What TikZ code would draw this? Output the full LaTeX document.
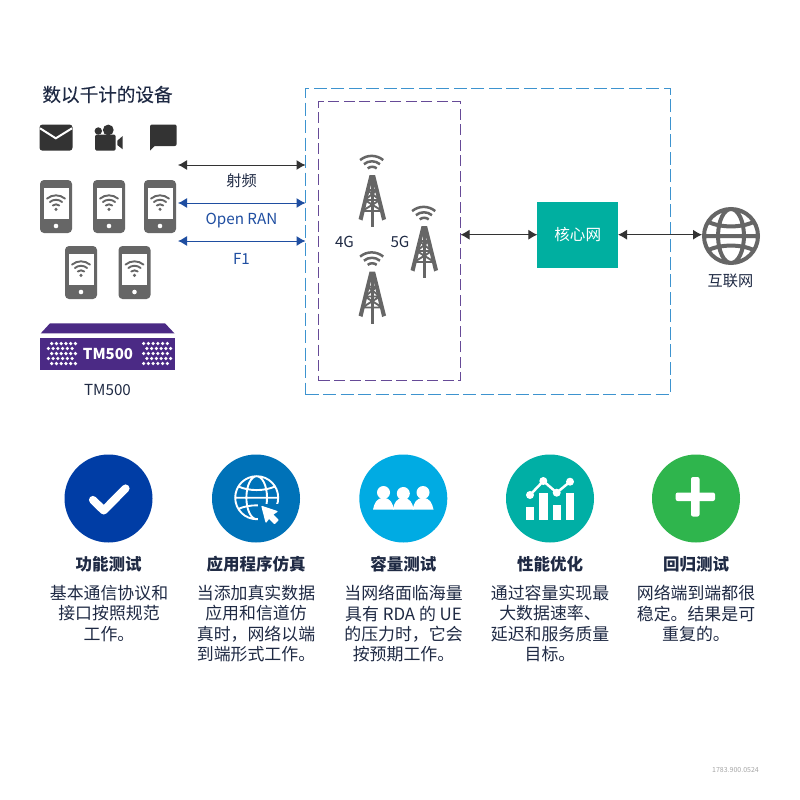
\documentclass[tikz,border=0pt]{standalone}
\usepackage{fontspec}
\setmainfont{Noto Sans CJK SC}
\newfontfamily\medfont[FakeBold=0.2]{Noto Sans CJK SC}
\usetikzlibrary{arrows.meta}
\definecolor{ink}{HTML}{1F2A44}
\definecolor{gicon}{HTML}{666666}
\definecolor{dicon}{HTML}{333333}
\definecolor{vbblue}{HTML}{1F4EA1}
\definecolor{outerblue}{HTML}{3D93CF}
\definecolor{purp}{HTML}{4B2A85}
\definecolor{teal}{HTML}{00AFA0}
\definecolor{ca}{HTML}{003DA5}
\definecolor{cb}{HTML}{0072B8}
\definecolor{cc}{HTML}{00ABE3}
\definecolor{cd}{HTML}{00AFA5}
\definecolor{ce}{HTML}{2FB54D}
\tikzset{
  lbl/.style={inner sep=0pt,text=ink,font=\fontsize{15.2}{17}\selectfont},
  bluelbl/.style={inner sep=0pt,text=vbblue,font=\fontsize{15.2}{17}\selectfont},
  arr/.style={{Latex[length=9pt,width=10pt]}-{Latex[length=9pt,width=10pt]},line width=1pt,draw=dicon},
  barr/.style={{Latex[length=9pt,width=10pt]}-{Latex[length=9pt,width=10pt]},line width=1pt,draw=vbblue},
  badge/.style={circle,minimum size=88pt,inner sep=0pt,outer sep=0pt},
  ttl/.style={inner sep=0pt,text=ink,font=\fontsize{16.5}{18}\selectfont\bfseries},
  body/.style={inner sep=0pt,anchor=north,align=center,text=ink,font=\fontsize{16.9}{20.4}\selectfont},
  wifiarcs/.pic={
    \draw[line width=1.9pt,draw=gicon,line cap=round] (-3.2,-3.8) arc[start angle=130,end angle=50,radius=5pt];
    \draw[line width=1.9pt,draw=gicon,line cap=round] (-6.1,-7.3) arc[start angle=130,end angle=50,radius=9.5pt];
    \draw[line width=1.9pt,draw=gicon,line cap=round] (-9,-10.7) arc[start angle=130,end angle=50,radius=14pt];
    \fill[gicon] (0,0) circle[radius=1.7pt];
  },
  phoneicon/.pic={
    \fill[gicon,rounded corners=4pt] (0,0) rectangle (32,53);
    \fill[white] (3.7,7.7) rectangle (28.7,39.3);
    \fill[white] (16,46) circle[radius=2.3pt];
    \pic at (16,29.3) {wifiarcs};
  },
  towericon/.pic={
    \draw[line width=2.5pt,draw=gicon] (-4.6,-6.6) arc[start angle=130,end angle=50,radius=7pt];
    \draw[line width=2.5pt,draw=gicon] (-8.4,-10.8) arc[start angle=130,end angle=50,radius=12.5pt];
    \draw[line width=2.5pt,draw=gicon] (-12.2,-14.9) arc[start angle=130,end angle=50,radius=18pt];
    \fill[gicon] (-2.8,0) -- (2.8,0) -- (13.7,44) -- (9.8,45.5) -- (0,4) -- (-9.8,45.5) -- (-13.7,44) -- cycle;
    \fill[gicon] (-1.3,2) rectangle (1.3,52);
    \draw[line width=1.9pt,draw=gicon] (-5,15) -- (5,15) (-7.5,25) -- (7.5,25) (-10,36) -- (10,36)
      (-5,15) -- (7.5,25) (5,15) -- (-7.5,25) (-7.5,25) -- (10,36) (7.5,25) -- (-10,36);
  },
  globeicon/.pic={
    \draw[line width=\pgfkeysvalueof{/tikz/gw},draw=\pgfkeysvalueof{/tikz/gc}]
      (0,0) circle[radius=1]
      (0,0) ellipse[x radius=.48,y radius=1]
      (-1,0) -- (1,0)
      (-.85,-.52) .. controls (-.35,-.3) and (.35,-.3) .. (.85,-.52)
      (-.85,.52) .. controls (-.35,.3) and (.35,.3) .. (.85,.52);
  },
  gw/.initial=4pt, gc/.initial=gicon
}
\begin{document}
\begin{tikzpicture}[x=1pt,y=-1pt]
\useasboundingbox (0,0) rectangle (800,800);
\fill[white] (0,0) rectangle (800,800);

% heading
\node[inner sep=0pt,text=ink,font=\medfont\fontsize{18.6}{20}\selectfont] (head) at (107.5,94.5) {数以千计的设备};

% top icons
\fill[dicon,rounded corners=3pt] (39.5,124.5) rectangle (72.5,150.7);
\draw[white,line width=2pt] (40,128.3) -- (55.8,138.3) -- (72,128.3);
\fill[dicon] (108.3,130) circle[radius=5.4pt] (98.3,131) circle[radius=3.7pt];
\fill[dicon,rounded corners=1.5pt] (95,134.5) rectangle (115.7,150.7);
\fill[dicon] (117.3,140.7) -- (122.7,136) -- (122.7,149.3) -- (117.3,145) -- cycle;
\fill[dicon,rounded corners=2pt] (150,124.5) -- (176.7,124.5) -- (176.7,146) -- (150,146) -- cycle;
\fill[dicon] (150,140) -- (150,150.5) -- (155,145.5) -- cycle;

% phones
\pic at (40,180) {phoneicon};
\pic at (93,180) {phoneicon};
\pic at (144,180) {phoneicon};
\pic at (65,246) {phoneicon};
\pic at (118.5,246) {phoneicon};

% TM500
\fill[purp] (50,323.3) -- (165,323.3) -- (174.5,333.4) -- (40.7,333.4) -- cycle;
\fill[purp] (40.3,338.3) rectangle (175,370);
\foreach \r/\dx in {0/0,1/-3.3,2/0,3/-3.3,4/0}{
  \foreach \c in {0,...,5}{
    \fill[white] ({51.7+\dx+\c*4.75},{343.5+\r*5}) circle[radius=1.8pt];
    \fill[white] ({143.6-\dx+\c*4.75},{343.5+\r*5}) circle[radius=1.8pt];
  }
}
\node[inner sep=0pt,text=white,font=\fontsize{15}{16}\selectfont\bfseries] (tmin) at (108,354) {TM500};
\node[lbl] (tmlabel) at (107.5,390.5) {TM500};

% boxes
\node[draw=outerblue,dash pattern=on 13pt off 4.5pt,line width=1pt,inner sep=0pt,outer sep=0pt,anchor=north west,minimum width=365pt,minimum height=306pt] (outer) at (305.5,88.5) {};
\node[draw=purp!85!white,dash pattern=on 11pt off 4.5pt,line width=1pt,inner sep=0pt,outer sep=0pt,anchor=north west,minimum width=142pt,minimum height=279pt] (inner) at (318.5,101.5) {};
\node[fill=teal,text=white,minimum width=80.6pt,minimum height=66pt,inner sep=0pt,outer sep=0pt,font=\fontsize{15.6}{17}\selectfont] (core) at (577.7,234.7) {核心网};

% left connector ends
\coordinate (rfA) at (178,165);
\coordinate (oranA) at (178,203);
\coordinate (fA) at (178,241);
\draw[arr] (rfA) -- (rfA -| outer.west);
\draw[barr] (oranA) -- (oranA -| outer.west);
\draw[barr] (fA) -- (fA -| outer.west);
\node[lbl] (rf) at (241.5,180.5) {射频};
\node[bluelbl] (oran) at (241.5,220.5) {Open RAN};
\node[bluelbl] (fone) at (241.5,258.5) {F1};

% towers
\pic at (372.3,175) {towericon};
\pic at (424.3,226) {towericon};
\pic at (372.3,271.5) {towericon};
\node[lbl] (fourg) at (344.5,241.5) {4G};
\node[lbl] (fiveg) at (400,241.5) {5G};

% globe
\node[circle,minimum size=54pt,inner sep=0pt,outer sep=2pt] (globe) at (731,236) {};
\begin{scope}[shift={(731,236)},x=27pt,y=27pt]
\pic {globeicon};
\end{scope}
\node[lbl] (inet) at (730.5,280.5) {互联网};

\draw[arr] (inner.east |- core.west) -- (core.west);
\draw[arr] (core.east) -- (core.east -| globe.west);

% badges
\node[badge,fill=ca] (b1) at (108.5,498.5) {};
\node[badge,fill=cb] (b2) at (256,498.5) {};
\node[badge,fill=cc] (b3) at (403.3,498.5) {};
\node[badge,fill=cd] (b4) at (550,498.5) {};
\node[badge,fill=ce] (b5) at (696,498.5) {};

% check
\draw[white,line width=8pt,line cap=round,line join=round,shorten >=2pt,shorten <=2pt] (91.5,498.5) -- (103.7,510.5) -- (127,487);

% globe + cursor
\begin{scope}[shift={(256.7,497.7)},x=21.5pt,y=21.5pt]
\tikzset{gw=1.9pt,gc=white}
\pic {globeicon};
\end{scope}
\fill[cb] (258,504) -- (282,504) -- (282,527) -- (258,527) -- cycle;
\fill[white,draw=white,line width=1.2pt,line join=round] (262,506.5) -- (277,511.5) -- (272.5,514.5) -- (278,520) -- (274.5,523.5) -- (269,518) -- (266,522) -- cycle;

% people
\foreach \x/\y in {383.5/492.5,423/492.5,403.3/493.5}{
  \fill[white] (\x,\y) circle[radius=6.5pt];
}
\foreach \x in {383.5,423,403.3}{
  \fill[white] (\x-10.5,509.5) .. controls (\x-9,503) and (\x-7,498) .. (\x,498) .. controls (\x+7,498) and (\x+9,503) .. (\x+10.5,509.5) -- cycle;
}

% chart
\fill[white] (526,506.7) rectangle (534.3,520);
\fill[white] (539.3,493.3) rectangle (548.3,520);
\fill[white] (552.7,505) rectangle (561,520);
\fill[white] (565.7,493.3) rectangle (574,520);
\draw[white,line width=2.5pt] (530,495) -- (543.3,481) -- (556.7,492.7) -- (570,481.7);
\foreach \x/\y in {530/495,543.3/481,556.7/492.7,570/481.7}{
  \fill[white] (\x,\y) circle[radius=4pt];
}

% plus
\fill[white,rounded corners=2pt] (675.7,492.5) rectangle (715,501);
\fill[white,rounded corners=2pt] (691,477) rectangle (699.5,516.5);

% titles
\node[ttl] (t1) at (108.5,564.5) {功能测试};
\node[ttl] (t2) at (256,564.5) {应用程序仿真};
\node[ttl] (t3) at (403.3,564.5) {容量测试};
\node[ttl] (t4) at (550,564.5) {性能优化};
\node[ttl] (t5) at (696,564.5) {回归测试};

% body
\node[body] (d1) at (109,585) {基本通信协议和\\接口按照规范\\工作。};
\node[body] (d2) at (256,585) {当添加真实数据\\应用和信道仿\\真时，网络以端\\到端形式工作。};
\node[body] (d3) at (403.5,585) {当网络面临海量\\具有 RDA 的 UE\\的压力时，它会\\按预期工作。};
\node[body] (d4) at (550,585) {通过容量实现最\\大数据速率、\\延迟和服务质量\\目标。};
\node[body] (d5) at (696,585) {网络端到端都很\\稳定。结果是可\\重复的。};

\node[inner sep=0pt,anchor=east,text=black!35,font=\fontsize{7}{8}\selectfont] (foot) at (759,770) {1783.900.0524};
\end{tikzpicture}
\end{document}
